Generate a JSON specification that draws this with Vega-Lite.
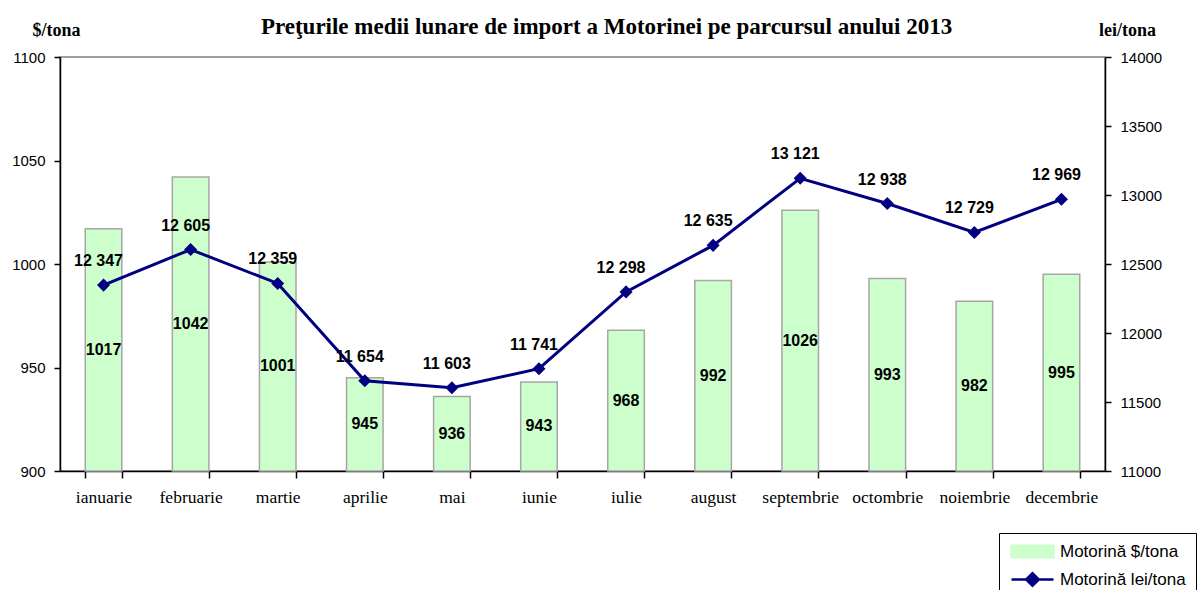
{
  "$schema": "https://vega.github.io/schema/vega-lite/v6.json",
  "width": 1045,
  "height": 414,
  "autosize": "none",
  "padding": {"left": 60, "top": 57, "right": 95, "bottom": 119},
  "background": "white",
  "config": {
    "locale": {"number": {"decimal": ",", "thousands": " ", "grouping": [3], "currency": ["", ""]}},
    "view": {"stroke": "#808080", "strokeWidth": 1.5},
    "axis": {"domainColor": "black", "domainWidth": 1.5, "tickColor": "black", "tickWidth": 1.5, "grid": false, "labelColor": "black", "titleColor": "black"},
    "legend": {
      "title": null, "orient": "none", "legendX": 939, "legendY": 476, "direction": "vertical",
      "strokeColor": "black", "fillColor": "white", "padding": 10,
      "labelFont": "Liberation Sans", "labelFontSize": 17, "labelColor": "black",
      "symbolSize": 144, "symbolOffset": 15, "labelOffset": 19, "rowPadding": 5,
      "symbolStrokeWidth": 2.5, "symbolOpacity": 1
    }
  },
  "title": {
    "text": "Preţurile medii lunare de import a Motorinei pe parcursul anului 2013",
    "font": "Liberation Serif", "fontSize": 23, "fontWeight": "bold", "color": "black",
    "anchor": "middle", "frame": "group", "dx": 24, "offset": -18
  },
  "data": {"values": [
    {"luna": "ianuarie", "usd": 1017, "lei": 12347},
    {"luna": "februarie", "usd": 1042, "lei": 12605},
    {"luna": "martie", "usd": 1001, "lei": 12359},
    {"luna": "aprilie", "usd": 945, "lei": 11654},
    {"luna": "mai", "usd": 936, "lei": 11603},
    {"luna": "iunie", "usd": 943, "lei": 11741},
    {"luna": "iulie", "usd": 968, "lei": 12298},
    {"luna": "august", "usd": 992, "lei": 12635},
    {"luna": "septembrie", "usd": 1026, "lei": 13121},
    {"luna": "octombrie", "usd": 993, "lei": 12938},
    {"luna": "noiembrie", "usd": 982, "lei": 12729},
    {"luna": "decembrie", "usd": 995, "lei": 12969}
  ]},
  "encoding": {
    "x": {
      "field": "luna", "type": "nominal", "sort": null,
      "scale": {"paddingInner": 0.58, "paddingOuter": 0.29},
      "axis": {"title": null, "labelFont": "Liberation Serif", "labelFontSize": 17.5, "labelAngle": 0, "tickBand": "extent", "tickSize": 7, "labelPadding": 10}
    }
  },
  "layer": [
    {
      "mark": {"type": "bar", "stroke": "#A6A6A6", "strokeWidth": 1.5},
      "encoding": {
        "y": {
          "field": "usd", "type": "quantitative",
          "scale": {"domain": [900, 1100], "zero": false, "nice": false},
          "axis": {
            "orient": "left", "title": "$/tona", "titleAngle": 0, "titleX": -4, "titleY": -22,
            "titleAlign": "center", "titleBaseline": "alphabetic", "titleFont": "Liberation Serif",
            "titleFontSize": 18, "titleFontWeight": "bold", "labelFont": "Liberation Sans",
            "labelFontSize": 15, "tickSize": 6, "labelPadding": 9,
            "values": [900, 950, 1000, 1050, 1100], "format": "d"
          }
        },
        "y2": {"datum": 900},
        "color": {
          "datum": "Motorină $/tona",
          "scale": {"domain": ["Motorină $/tona", "Motorină lei/tona"], "range": ["#CCFFCC", "#000080"]}
        }
      }
    },
    {
      "mark": {"type": "text", "font": "Liberation Sans", "fontWeight": "bold", "fontSize": 16, "baseline": "middle", "color": "black"},
      "encoding": {
        "y": {"field": "usd", "type": "quantitative", "scale": {"domain": [900, 1300], "zero": false, "nice": false}, "axis": null},
        "text": {"field": "usd", "type": "quantitative", "format": "d"}
      }
    },
    {
      "encoding": {
        "y": {
          "field": "lei", "type": "quantitative",
          "scale": {"domain": [11000, 14000], "zero": false, "nice": false},
          "axis": {
            "orient": "right", "title": "lei/tona", "titleAngle": 0, "titleX": 22, "titleY": -22,
            "titleAlign": "center", "titleBaseline": "alphabetic", "titleFont": "Liberation Serif",
            "titleFontSize": 18, "titleFontWeight": "bold", "labelFont": "Liberation Sans",
            "labelFontSize": 15, "tickSize": 6, "labelPadding": 9,
            "values": [11000, 11500, 12000, 12500, 13000, 13500, 14000], "format": "d"
          }
        }
      },
      "layer": [
        {
          "mark": {"type": "line", "strokeWidth": 3},
          "encoding": {"color": {"datum": "Motorină lei/tona"}}
        },
        {
          "mark": {"type": "point", "filled": true, "size": 154, "opacity": 1},
          "encoding": {
            "color": {"datum": "Motorină lei/tona"},
            "shape": {
              "datum": "Motorină lei/tona",
              "scale": {"domain": ["Motorină $/tona", "Motorină lei/tona"], "range": ["M-3.5,-0.95L3.5,-0.95L3.5,0.95L-3.5,0.95Z", "M-3.5,0L3.5,0M-1.05,0L0,-1.05L1.05,0L0,1.05Z"]}
            }
          }
        },
        {
          "mark": {"type": "text", "font": "Liberation Sans", "fontWeight": "bold", "fontSize": 16, "baseline": "middle", "dx": -5, "dy": -24, "color": "black"},
          "encoding": {"text": {"field": "lei", "type": "quantitative", "format": ",d"}}
        }
      ]
    }
  ],
  "resolve": {"scale": {"y": "independent"}}
}
